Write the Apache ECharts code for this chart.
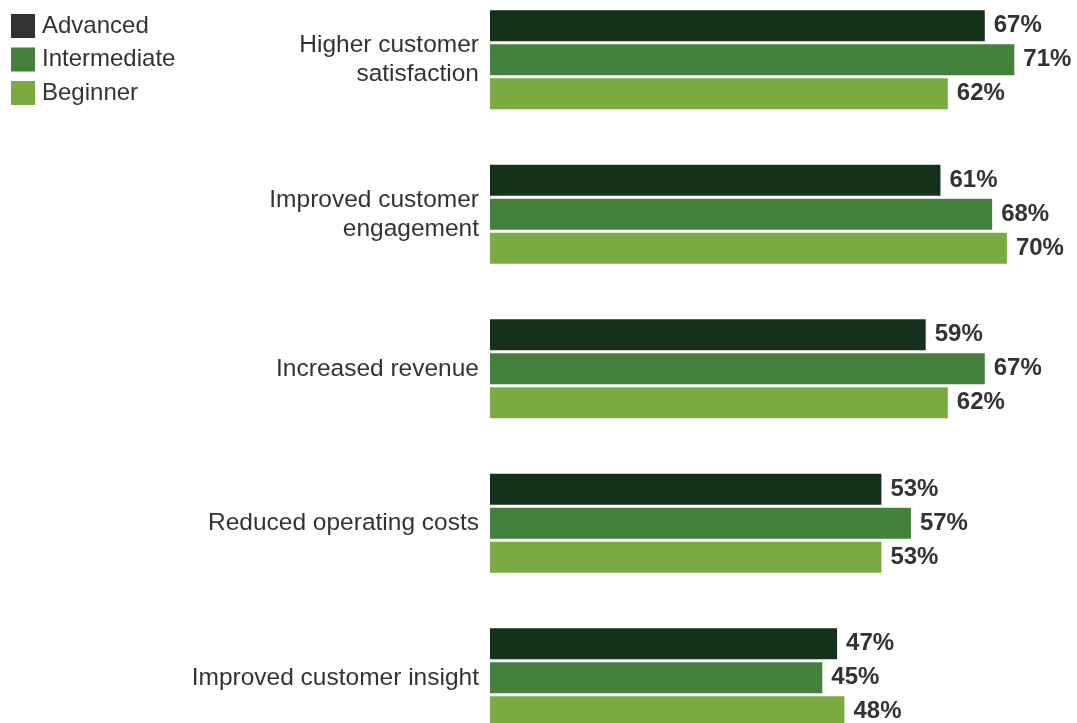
<!DOCTYPE html>
<html>
<head>
<meta charset="utf-8">
<script src="https://cdn.jsdelivr.net/npm/echarts@6/dist/echarts.min.js"></script>
<style>
  html, body { margin: 0; padding: 0; background: #ffffff; }
  #chart { width: 1077px; height: 723px; }
</style>
</head>
<body>
<div id="chart"></div>
<script>
// Reported benefits by maturity level (share of respondents, %)
const categories = [
  'Higher customer\nsatisfaction',
  'Improved customer\nengagement',
  'Increased revenue',
  'Reduced operating costs',
  'Improved customer insight'
];
const advanced = [67, 61, 59, 53, 47];
const intermediate = [71, 68, 67, 57, 45];
const beginner = [62, 70, 62, 53, 48];

const seriesNames = ['Advanced', 'Intermediate', 'Beginner'];
const barColors = ['#14311a', '#44813c', '#7aab42'];
const legendColors = ['#303331', '#44803c', '#7aab42'];
const FONT = '"Liberation Sans", Arial, Helvetica, sans-serif';

const chart = echarts.init(document.getElementById('chart'), null, { renderer: 'canvas' });

function makeSeries(name, data, color) {
  return {
    name: name,
    type: 'bar',
    data: data,
    barWidth: 31,
    barGap: '10%',
    itemStyle: { color: color },
    label: {
      show: true,
      position: 'right',
      distance: 9,
      formatter: '{c}%',
      color: '#333333',
      fontFamily: FONT,
      fontWeight: 'bold',
      fontSize: 24
    },
    emphasis: { disabled: true },
    animation: false
  };
}

chart.setOption({
  animation: false,
  legend: {
    orient: 'vertical',
    left: 11,
    top: 14,
    padding: 0,
    itemWidth: 24,
    itemHeight: 24,
    itemGap: 9.5,
    icon: 'rect',
    selectedMode: false,
    textStyle: {
      color: '#333333', fontFamily: FONT, fontSize: 24, lineHeight: 24,
      padding: [0, 0, 0, 2]
    },
    data: seriesNames.map((n, i) => ({ name: n, itemStyle: { color: legendColors[i] } }))
  },
  grid: {
    left: 490,
    width: 576,
    top: -17.5,
    height: 772.5,
    containLabel: false,
    outerBoundsMode: 'none'
  },
  xAxis: {
    type: 'value',
    min: 0,
    max: 78,
    show: false
  },
  yAxis: {
    type: 'category',
    data: categories,
    inverse: true,
    axisLine: { show: false },
    axisTick: { show: false },
    splitLine: { show: false },
    axisLabel: {
      margin: 11,
      color: '#333333',
      fontFamily: FONT,
      fontSize: 24.5,
      lineHeight: 29,
      align: 'right'
    }
  },
  series: [
    makeSeries(seriesNames[0], advanced, barColors[0]),
    makeSeries(seriesNames[1], intermediate, barColors[1]),
    makeSeries(seriesNames[2], beginner, barColors[2])
  ]
});
</script>
</body>
</html>
